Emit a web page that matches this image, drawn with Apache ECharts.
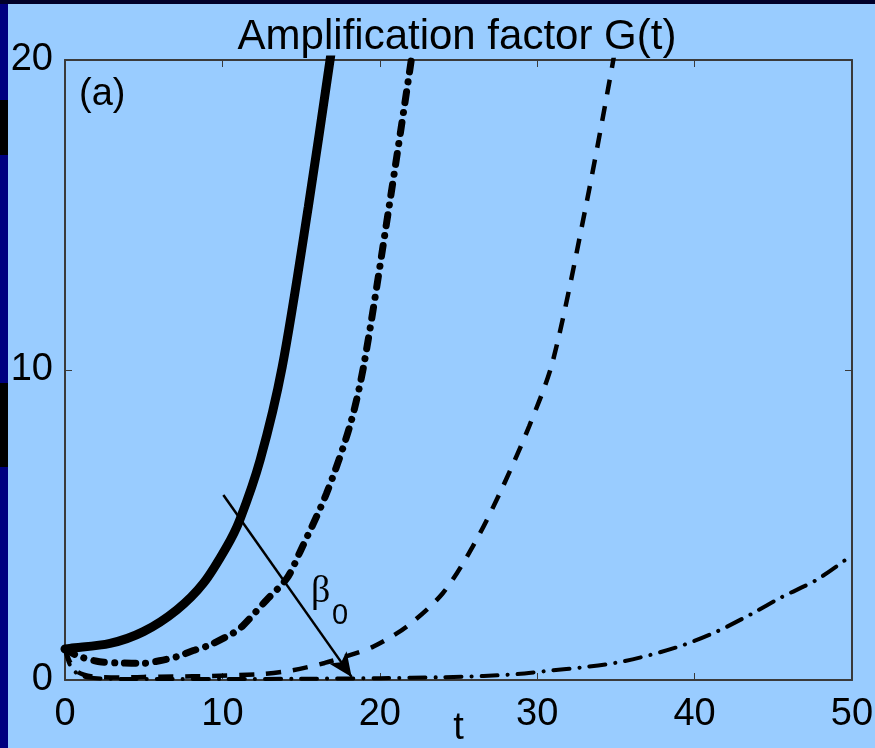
<!DOCTYPE html>
<html>
<head>
<meta charset="utf-8">
<script src="https://cdn.jsdelivr.net/npm/echarts@6/dist/echarts.min.js"></script>
<style>
  html, body { margin: 0; padding: 0; background: #99ccff; }
  #chart { width: 875px; height: 748px; }
</style>
</head>
<body>
<div id="chart"></div>
<script>
// ---- data ----
const titleText = 'Amplification factor G(t)';
const panelLabel = '(a)';
const xName = 't';
const xTicks = [0, 10, 20, 30, 40, 50];
const yTicks = [0, 10, 20];

// curve 1: solid thick
const solidT = [0, 0.3, 2.86, 4.98, 7.1, 8.79, 10.27, 11.1, 12.4, 13.8, 15.46, 16.84, 17.3];
const solidG = [1.0, 1.02, 1.18, 1.56, 2.26, 3.12, 4.3, 5.16, 7.1, 10.1, 15.27, 20, 21.6];

// curve 2: thick dash-dot
const thickDashDotT = [0, 0.4, 0.95, 2.2, 3.5, 4.96, 6, 7.1, 8.15, 9.2, 10.7, 11.3, 12.8, 14.1, 14.9, 16.6, 18.1, 19.0, 20.6, 22.0, 22.4];
const thickDashDotG = [1.0, 0.88, 0.75, 0.59, 0.55, 0.54, 0.62, 0.75, 0.95, 1.13, 1.52, 1.75, 2.58, 3.28, 4.1, 6.0, 8.2, 10.2, 15.3, 20, 21.5];

// curve 3: dashed
const dashedT = [0, 0.3, 0.7, 1.2, 2, 3.5, 5, 7, 9.2, 12.4, 14.3, 16.5, 18.5, 19.6, 21.7, 24, 25.9, 27.6, 29.5, 31, 33.1, 34.8, 35.2];
const dashedG = [1.0, 0.6, 0.3, 0.17, 0.1, 0.08, 0.1, 0.11, 0.13, 0.19, 0.3, 0.55, 0.87, 1.08, 1.72, 2.8, 4.3, 6.0, 8.2, 10.3, 15.3, 19.9, 21.2];

// curve 4: thin dash-dot
const thinDashDotT = [0, 0.3, 0.8, 1.5, 3, 6, 10, 15, 20, 24, 26.6, 28.7, 30.8, 32.9, 35.05, 37.2, 39.3, 41.4, 43.5, 45.6, 47.75, 50];
const thinDashDotG = [1.0, 0.5, 0.2, 0.08, 0.04, 0.03, 0.03, 0.04, 0.06, 0.09, 0.13, 0.19, 0.3, 0.41, 0.56, 0.81, 1.13, 1.56, 2.1, 2.69, 3.23, 4.03];

// arrow annotation (beta_0 direction), data coords
const arrowStart = [10.06, 5.97];
const arrowEnd = [18.21, 0.1];
const arrowLabel = 'β';
const arrowSub = '0';

// ---- build ----
const zip = (a, b) => a.map((v, i) => [v, b[i]]);
const FONT = 'Liberation Sans, Arial, Helvetica, sans-serif';
const AX = '#3a3a3a';

const chart = echarts.init(document.getElementById('chart'), null, { renderer: 'canvas' });

const axisCommonX = {
  type: 'value', min: xTicks[0], max: xTicks[xTicks.length - 1], interval: xTicks[1] - xTicks[0],
  splitLine: { show: false },
  axisLine: { show: true, onZero: false, lineStyle: { color: AX, width: 2 } },
  axisTick: { show: true, inside: true, length: 7, lineStyle: { color: AX, width: 1 } }
};
const axisCommonY = {
  type: 'value', min: yTicks[0], max: yTicks[yTicks.length - 1], interval: yTicks[1] - yTicks[0],
  splitLine: { show: false },
  axisLine: { show: true, onZero: false, lineStyle: { color: AX, width: 2 } },
  axisTick: { show: true, inside: true, length: 7, lineStyle: { color: AX, width: 1 } }
};

const option = {
  backgroundColor: '#99ccff',
  animation: false,
  grid: { left: 65, right: 23, top: 60, bottom: 68, containLabel: false, outerBoundsMode: 'none' },
  xAxis: [
    Object.assign({}, axisCommonX, {
      position: 'bottom',
      name: xName, nameLocation: 'middle', nameGap: 30, nameMoveOverlap: false,
      nameTextStyle: { color: '#000', fontSize: 38, fontFamily: FONT, verticalAlign: 'top' },
      axisLabel: { color: '#000', fontSize: 38, fontFamily: FONT, margin: 16 }
    }),
    Object.assign({}, axisCommonX, { position: 'top', axisLabel: { show: false } })
  ],
  yAxis: [
    Object.assign({}, axisCommonY, {
      position: 'left',
      axisLabel: { color: '#000', fontSize: 38, fontFamily: FONT, margin: 12 }
    }),
    Object.assign({}, axisCommonY, { position: 'right', axisLabel: { show: false } })
  ],
  graphic: [
    { type: 'rect', shape: { x: 0, y: 0, width: 8, height: 748 }, style: { fill: '#000080' }, z: 100 },
    { type: 'rect', shape: { x: 0, y: 100, width: 8, height: 55 }, style: { fill: '#000000' }, z: 101 },
    { type: 'rect', shape: { x: 0, y: 383, width: 8, height: 84 }, style: { fill: '#000000' }, z: 101 },
    { type: 'rect', shape: { x: 0, y: 0, width: 875, height: 4 }, style: { fill: '#00002a' }, z: 102 },
    { type: 'text', x: 457, y: 37, style: { text: titleText, fontSize: 42, fontFamily: FONT, fill: '#000', align: 'center', verticalAlign: 'middle' }, z: 100 },
    { type: 'text', x: 79, y: 95, style: { text: panelLabel, fontSize: 38, fontFamily: FONT, fill: '#000', align: 'left', verticalAlign: 'middle' }, z: 100 },
    { type: 'text', x: 311, y: 592, style: { text: arrowLabel, fontSize: 38, fontFamily: 'Liberation Serif, Times New Roman, serif', fill: '#000', align: 'left', verticalAlign: 'middle' }, z: 100 },
    { type: 'text', x: 332, y: 616, style: { text: arrowSub, fontSize: 29, fontFamily: FONT, fill: '#000', align: 'left', verticalAlign: 'middle' }, z: 100 }
  ],
  series: [
    {
      type: 'line', data: zip(thinDashDotT, thinDashDotG), showSymbol: false, smooth: 0.3, clip: true,
      lineStyle: { color: '#000', width: 4, type: [16, 10, 0.1, 10], cap: 'round' }
    },
    {
      type: 'line', data: zip(dashedT, dashedG), showSymbol: false, smooth: 0.3, clip: true,
      lineStyle: { color: '#000', width: 4.5, type: [15, 12], cap: 'butt' }
    },
    {
      type: 'line', data: zip(thickDashDotT, thickDashDotG), showSymbol: false, smooth: 0.3, clip: true,
      lineStyle: { color: '#000', width: 7, type: [11, 10, 0.1, 10], cap: 'round' }
    },
    {
      type: 'line', data: zip(solidT, solidG), showSymbol: false, smooth: 0.3, clip: true,
      lineStyle: { color: '#000', width: 9, type: 'solid', cap: 'round' },
      markLine: {
        silent: true, animation: false,
        symbol: ['none', 'arrow'], symbolSize: [16, 24],
        label: { show: false },
        lineStyle: { color: '#000', width: 2.5, type: 'solid' },
        data: [[{ coord: arrowStart }, { coord: arrowEnd }]]
      }
    }
  ]
};
chart.setOption(option);
</script>
</body>
</html>
